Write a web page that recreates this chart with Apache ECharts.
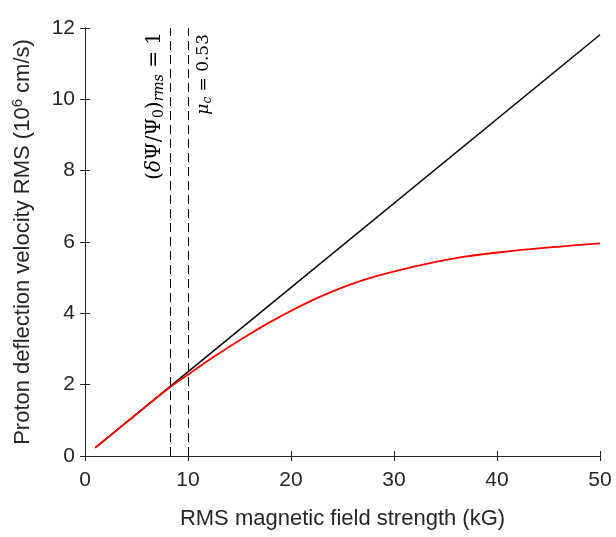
<!DOCTYPE html>
<html>
<head>
<meta charset="utf-8">
<script src="https://cdn.jsdelivr.net/npm/echarts@6/dist/echarts.min.js"></script>
<style>
  html, body { margin: 0; padding: 0; background: #fff; }
  #chart { width: 616px; height: 537px; }
</style>
</head>
<body>
<div id="chart"></div>
<script>
// RMS magnetic field strength (kG)
const fieldB = [1, 5, 8.25, 10, 12.4, 15.65, 18.9, 22.8, 27, 31.8, 36.7, 41.5, 46.4, 50];
// Proton deflection velocity RMS (10^6 cm/s), full model
const velocityRed = [0.23, 1.17, 1.93, 2.28, 2.76, 3.36, 3.90, 4.46, 4.93, 5.30, 5.58, 5.75, 5.88, 5.96];
// Linear (small-deflection) estimate, end points
const linearB = [1, 50];
const velocityLinear = [0.236, 11.81];
// Vertical markers
const markerB = [8.25, 10];
const xTicks = [0, 10, 20, 30, 40, 50];
const yTicks = [0, 2, 4, 6, 8, 10, 12];

const txt = '#262626';
const font = 'Liberation Sans, Arial, sans-serif';
const serif = 'DejaVu Serif, Liberation Serif, serif';

const chart = echarts.init(document.getElementById('chart'));

const axisCommon = {
  axisLine: { show: true, lineStyle: { color: txt, width: 1 } },
  axisTick: { show: true, inside: true, length: 5, lineStyle: { color: txt } },
  splitLine: { show: false }
};

chart.setOption({
  animation: false,
  backgroundColor: '#fff',
  grid: { left: 85, right: 16, top: 28, bottom: 81, outerBoundsMode: 'none' },
  xAxis: [
    Object.assign({
      type: 'value', min: xTicks[0], max: xTicks[xTicks.length - 1], interval: 10,
      position: 'bottom',
      axisLabel: { color: txt, fontFamily: font, fontSize: 21, margin: 14 },
      name: 'RMS magnetic field strength (kG)', nameLocation: 'middle', nameGap: 52,
      nameTextStyle: { color: txt, fontFamily: font, fontSize: 22 }
    }, axisCommon),
    Object.assign({
      type: 'value', min: 0, max: 50, interval: 10, position: 'top',
      axisLabel: { show: false }
    }, axisCommon)
  ],
  yAxis: [
    Object.assign({
      type: 'value', min: yTicks[0], max: yTicks[yTicks.length - 1], interval: 2,
      position: 'left',
      axisLabel: { color: txt, fontFamily: font, fontSize: 21, margin: 10 },
      name: '{a|Proton deflection velocity RMS (10}{s|6}{a| cm/s)}',
      nameLocation: 'middle', nameGap: 50, nameRotate: 90,
      nameTextStyle: {
        rich: {
          a: { color: txt, fontFamily: font, fontSize: 22 },
          s: { color: txt, fontFamily: font, fontSize: 15, verticalAlign: 'top', padding: [0, 0, 10, 0] }
        }
      }
    }, axisCommon),
    Object.assign({
      type: 'value', min: 0, max: 12, interval: 2, position: 'right',
      axisLabel: { show: false }
    }, axisCommon)
  ],
  series: [
    {
      type: 'line',
      data: linearB.map((b, i) => [b, velocityLinear[i]]),
      showSymbol: false,
      lineStyle: { color: '#000', width: 1.5 },
      z: 2,
      markLine: {
        silent: true,
        symbol: 'none',
        lineStyle: { color: '#000', type: [9, 5], width: 1 },
        data: [
          {
            xAxis: markerB[0],
            label: {
              show: true, position: 'insideEndTop', distance: 4,
              formatter: '{t|(}{i|δ}{t|Ψ/Ψ}{sub|0}{t|)}{subi|rms}{t| = 1}',
              rich: {
                t: { fontFamily: serif, fontSize: 20, color: '#000' },
                i: { fontFamily: serif, fontStyle: 'italic', fontSize: 20, color: '#000' },
                sub: { fontFamily: serif, fontSize: 14, color: '#000', padding: [9, 0, 0, 0] },
                subi: { fontFamily: serif, fontStyle: 'italic', fontSize: 14, color: '#000', padding: [9, 0, 0, 0] }
              }
            }
          },
          {
            xAxis: markerB[1],
            label: {
              show: true, position: 'insideEndBottom', distance: 6,
              formatter: '{i|μ}{subi|c}{t| = 0.53}',
              rich: {
                t: { fontFamily: serif, fontSize: 17, color: '#000' },
                i: { fontFamily: serif, fontStyle: 'italic', fontSize: 17, color: '#000' },
                subi: { fontFamily: serif, fontStyle: 'italic', fontSize: 12, color: '#000', padding: [8, 0, 0, 0] }
              }
            }
          }
        ]
      }
    },
    {
      type: 'line',
      data: fieldB.map((b, i) => [b, velocityRed[i]]),
      showSymbol: false,
      smooth: 0.4,
      lineStyle: { color: '#ff0000', width: 1.8 },
      z: 3
    }
  ]
});
</script>
</body>
</html>
